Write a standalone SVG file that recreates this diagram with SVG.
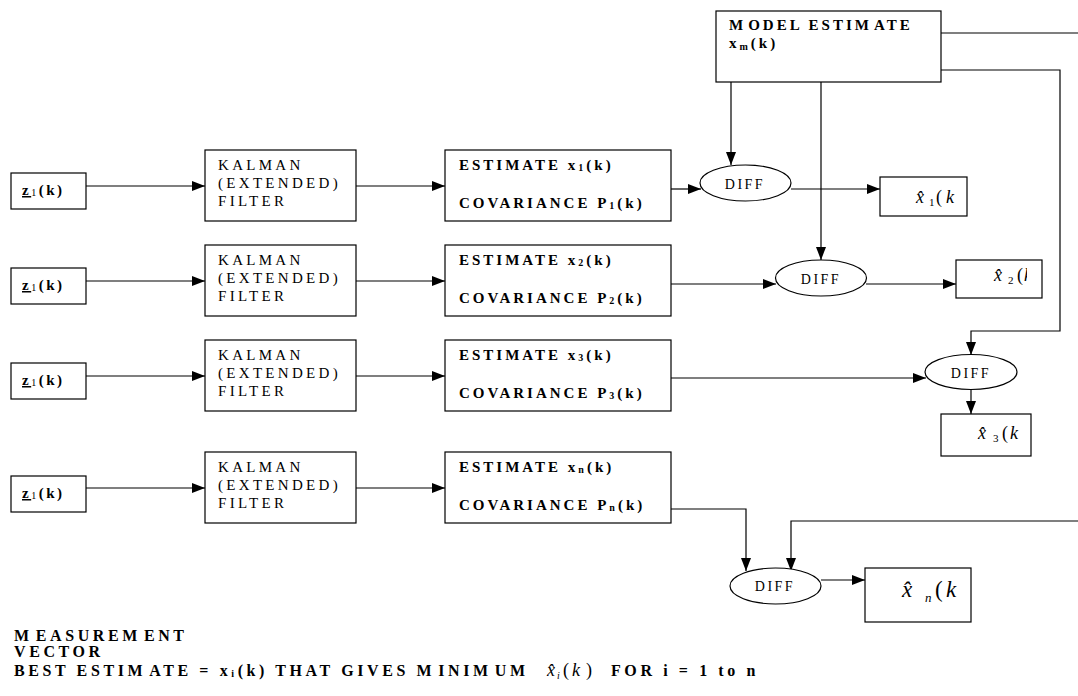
<svg xmlns="http://www.w3.org/2000/svg" width="1078" height="696" viewBox="0 0 1078 696">
<defs>
<marker id="ah" markerWidth="13" markerHeight="10" refX="13" refY="5" orient="auto" markerUnits="userSpaceOnUse">
<path d="M0,0 L13,5 L0,10 Z" fill="#000"/>
</marker>
<clipPath id="c2"><rect x="956" y="255" width="71" height="45"/></clipPath>
<style>
.bx{fill:#fff;stroke:#000;stroke-width:1.2}
.ln{fill:none;stroke:#000;stroke-width:1.2}
.ar{fill:none;stroke:#000;stroke-width:1.2;marker-end:url(#ah)}
.kal{font-family:"Liberation Serif","Times New Roman",serif;font-size:15px;letter-spacing:3.3px;fill:#000}
.est{font-family:"Liberation Serif","Times New Roman",serif;font-size:15px;font-weight:bold;letter-spacing:3px;fill:#000}
.sub{font-size:10px}
.zt{font-family:"Liberation Serif","Times New Roman",serif;font-size:15px;font-weight:bold;letter-spacing:2.5px;fill:#000}
.dif{font-family:"Liberation Serif","Times New Roman",serif;font-size:14px;letter-spacing:2.5px;fill:#000;text-anchor:middle}
.hx{font-family:"Liberation Serif","Times New Roman",serif;fill:#000}
.it{font-style:italic}
.bot{font-family:"Liberation Serif","Times New Roman",serif;font-size:16px;font-weight:bold;letter-spacing:3.6px;fill:#000}
</style>
</defs>
<rect width="1078" height="696" fill="#fff"/>

<g id="connectors">
<path class="ar" d="M86,186 H205"/>
<path class="ar" d="M356,186 H445"/>
<path class="ar" d="M86,281 H205"/>
<path class="ar" d="M356,281 H445"/>
<path class="ar" d="M86,376 H205"/>
<path class="ar" d="M356,376 H445"/>
<path class="ar" d="M86,488 H205"/>
<path class="ar" d="M356,488 H445"/>
<path class="ar" d="M671,189 H701"/>
<path class="ar" d="M791,189 H880"/>
<path class="ar" d="M731,82 V165"/>
<path class="ar" d="M821,82 V260"/>
<path class="ar" d="M671,284 H776"/>
<path class="ar" d="M866,284 H956"/>
<path class="ln" d="M941,33 H1078"/>
<path class="ar" d="M941,70 H1060 V331 H971 V355"/>
<path class="ar" d="M671,378 H926"/>
<path class="ar" d="M971,390 V414"/>
<path class="ar" d="M671,509 H746 V571"/>
<path class="ar" d="M1078,521 H791 V571"/>
<path class="ar" d="M821,580 H865"/>
</g>

<g id="model">
<rect class="bx" x="716" y="11" width="225" height="71"/>
<text class="est" x="729" y="30">M<tspan dx="2">ODEL ESTIM</tspan><tspan dx="2">ATE</tspan></text>
<text class="est" x="729" y="48">x<tspan class="sub" dy="2">m</tspan><tspan dy="-2">(k)</tspan></text>
</g>

<g id="z1"><rect class="bx" x="11" y="173" width="75" height="36"/>
<text class="zt" x="22" y="195"><tspan text-decoration="underline">z</tspan><tspan font-weight="normal" font-size="10" dy="1">1</tspan><tspan dy="-1">(k)</tspan></text></g>
<g id="z2"><rect class="bx" x="11" y="268" width="75" height="36"/>
<text class="zt" x="22" y="290"><tspan text-decoration="underline">z</tspan><tspan font-weight="normal" font-size="10" dy="1">1</tspan><tspan dy="-1">(k)</tspan></text></g>
<g id="z3"><rect class="bx" x="11" y="363" width="75" height="36"/>
<text class="zt" x="22" y="385"><tspan text-decoration="underline">z</tspan><tspan font-weight="normal" font-size="10" dy="1">1</tspan><tspan dy="-1">(k)</tspan></text></g>
<g id="z4"><rect class="bx" x="11" y="476" width="75" height="36"/>
<text class="zt" x="22" y="498"><tspan text-decoration="underline">z</tspan><tspan font-weight="normal" font-size="10" dy="1">1</tspan><tspan dy="-1">(k)</tspan></text></g>

<g id="kalman1"><rect class="bx" x="205" y="150" width="151" height="71"/>
<text class="kal" x="218" y="170">KALMAN</text><text class="kal" x="218" y="188">(EXTENDED)</text><text class="kal" x="218" y="206">FILTER</text></g>
<g id="kalman2"><rect class="bx" x="205" y="245" width="151" height="71"/>
<text class="kal" x="218" y="265">KALMAN</text><text class="kal" x="218" y="283">(EXTENDED)</text><text class="kal" x="218" y="301">FILTER</text></g>
<g id="kalman3"><rect class="bx" x="205" y="340" width="151" height="71"/>
<text class="kal" x="218" y="360">KALMAN</text><text class="kal" x="218" y="378">(EXTENDED)</text><text class="kal" x="218" y="396">FILTER</text></g>
<g id="kalman4"><rect class="bx" x="205" y="452" width="151" height="71"/>
<text class="kal" x="218" y="472">KALMAN</text><text class="kal" x="218" y="490">(EXTENDED)</text><text class="kal" x="218" y="508">FILTER</text></g>

<g id="est1"><rect class="bx" x="445" y="150" width="226" height="71"/>
<text class="est" x="459" y="170">ESTIMATE  x<tspan class="sub" dy="1">1</tspan><tspan dy="-1">(k)</tspan></text>
<text class="est" x="459" y="208">COVARIANCE P<tspan class="sub" dy="1">1</tspan><tspan dy="-1">(k)</tspan></text></g>
<g id="est2"><rect class="bx" x="445" y="245" width="226" height="71"/>
<text class="est" x="459" y="265">ESTIMATE  x<tspan class="sub" dy="1">2</tspan><tspan dy="-1">(k)</tspan></text>
<text class="est" x="459" y="303">COVARIANCE P<tspan class="sub" dy="1">2</tspan><tspan dy="-1">(k)</tspan></text></g>
<g id="est3"><rect class="bx" x="445" y="340" width="226" height="71"/>
<text class="est" x="459" y="360">ESTIMATE  x<tspan class="sub" dy="1">3</tspan><tspan dy="-1">(k)</tspan></text>
<text class="est" x="459" y="398">COVARIANCE P<tspan class="sub" dy="1">3</tspan><tspan dy="-1">(k)</tspan></text></g>
<g id="est4"><rect class="bx" x="445" y="452" width="226" height="71"/>
<text class="est" x="459" y="472">ESTIMATE  x<tspan class="sub" dy="1">n</tspan><tspan dy="-1">(k)</tspan></text>
<text class="est" x="459" y="510">COVARIANCE P<tspan class="sub" dy="1">n</tspan><tspan dy="-1">(k)</tspan></text></g>

<g id="diff1"><ellipse class="bx" cx="745.5" cy="183" rx="45.5" ry="18"/><text class="dif" x="745" y="189">DIFF</text></g>
<g id="diff2"><ellipse class="bx" cx="821" cy="278" rx="45.5" ry="18"/><text class="dif" x="821" y="284">DIFF</text></g>
<g id="diff3"><ellipse class="bx" cx="971" cy="372" rx="46" ry="17.5"/><text class="dif" x="971" y="378">DIFF</text></g>
<g id="diff4"><ellipse class="bx" cx="775.5" cy="586" rx="45.5" ry="18"/><text class="dif" x="775" y="591">DIFF</text></g>

<g id="xhat1"><rect class="bx" x="880" y="177" width="87" height="39"/>
<text class="hx it" x="916" y="203" font-size="18">x̂</text>
<text class="hx" x="929" y="206" font-size="11">1</text>
<text class="hx" x="936" y="203" font-size="18">(</text>
<text class="hx it" x="946" y="203" font-size="18">k</text></g>

<g id="xhat2"><rect class="bx" x="956" y="260" width="86" height="38"/>
<g clip-path="url(#c2)">
<text class="hx it" x="994" y="281" font-size="18">x̂</text>
<text class="hx" x="1008" y="284" font-size="11">2</text>
<text class="hx" x="1017" y="281" font-size="18">(</text>
<text class="hx it" x="1024" y="281" font-size="18">k</text></g></g>

<g id="xhat3"><rect class="bx" x="941" y="414" width="90" height="42"/>
<text class="hx it" x="978" y="439" font-size="18">x̂</text>
<text class="hx" x="993" y="442" font-size="11">3</text>
<text class="hx" x="1002" y="439" font-size="18">(</text>
<text class="hx it" x="1010" y="439" font-size="18">k</text></g>

<g id="xhatn"><rect class="bx" x="865" y="568" width="106" height="54"/>
<text class="hx it" x="902" y="597" font-size="23">x̂</text>
<text class="hx it" x="925" y="602" font-size="13">n</text>
<text class="hx" x="935" y="597" font-size="23">(</text>
<text class="hx it" x="946" y="597" font-size="23">k</text></g>

<g id="notes">
<text class="bot" x="14" y="641" letter-spacing="5.2">M<tspan dx="3">EASUREM</tspan><tspan dx="3">ENT</tspan></text>
<text class="bot" x="14" y="657" letter-spacing="4.2">VECTOR</text>
<text class="bot" x="14" y="676">BEST ESTIM<tspan dx="3">ATE = x</tspan><tspan font-size="10" dy="1">i</tspan><tspan dy="-1">(k) THAT GIVES M</tspan><tspan dx="3">INIM</tspan><tspan dx="3">UM</tspan></text>
<text class="hx it" x="547" y="676" font-size="18">x̂</text>
<text class="hx it" x="557" y="679" font-size="10">i</text>
<text class="hx" x="563" y="676" font-size="18">(</text>
<text class="hx it" x="572" y="676" font-size="18">k</text>
<text class="hx" x="586" y="676" font-size="18">)</text>
<text class="bot" x="611" y="676" letter-spacing="2.4">FOR  i = 1 to n</text>
</g>
</svg>
